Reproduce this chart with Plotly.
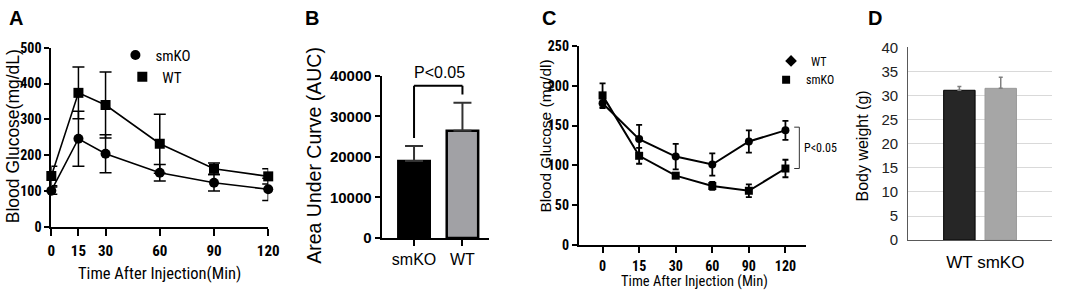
import plotly.graph_objects as go

W, H = 1065, 300

# ---------------- data ----------------
# Panel A: IPGTT
time_a = [0, 15, 30, 60, 90, 120]
a_smko = [101, 246, 204, 151, 123, 105]
a_smko_err = [10, 77, 53, 23, 23, 31]
a_wt = [142, 374, 340, 232, 162, 141]
a_wt_err = [27, 72, 92, 82, 16, 21]

# Panel B: AUC
auc_groups = ["smKO", "WT"]
auc_vals = [19000, 26500]
auc_err = [3700, 6900]

# Panel C: ITT
time_c = ["0", "15", "30", "60", "90", "120"]
c_wt = [178, 133, 111, 101, 130, 144]
c_wt_err = [6, 18, 16, 14, 14, 12]
c_smko = [188, 112, 87, 74, 68, 96]
c_smko_err = [15, 10, 2, 5, 8, 11]

# Panel D: body weight
bw_groups = ["WT", "smKO"]
bw_vals = [31.1, 31.5]
bw_err = [0.8, 2.3]

# ---------------- helpers ----------------
def fx(p):
    return p / W

def fy(p):
    return 1 - p / H

NARROW = "Roboto Condensed, Liberation Sans, Arial"
ARIAL = "Liberation Sans, Arial"

fig = go.Figure()

# ---- Panel A ----
fig.add_trace(go.Scatter(
    x=time_a, y=a_smko, mode="lines+markers", xaxis="x", yaxis="y",
    line=dict(color="black", width=1.6),
    marker=dict(symbol="circle", size=10, color="black"),
    error_y=dict(type="data", array=a_smko_err, color="black", thickness=1.5, width=6),
    cliponaxis=False, showlegend=False))
fig.add_trace(go.Scatter(
    x=time_a, y=a_wt, mode="lines+markers", xaxis="x", yaxis="y",
    line=dict(color="black", width=1.6),
    marker=dict(symbol="square", size=10, color="black"),
    error_y=dict(type="data", array=a_wt_err, color="black", thickness=1.5, width=6),
    cliponaxis=False, showlegend=False))
fig.add_trace(go.Scatter(x=[None], y=[None], mode="markers", name="smKO",
    marker=dict(symbol="circle", size=10, color="black"), legend="legend", xaxis="x", yaxis="y"))
fig.add_trace(go.Scatter(x=[None], y=[None], mode="markers", name="WT",
    marker=dict(symbol="square", size=10, color="black"), legend="legend2", xaxis="x", yaxis="y"))

# ---- Panel B ----
fig.add_trace(go.Bar(
    x=auc_groups, y=auc_vals, xaxis="x2", yaxis="y2", width=0.65,
    marker=dict(color=["#000000", "#a1a1a5"], line=dict(color="black", width=2.5)),
    error_y=dict(type="data", symmetric=False, array=auc_err, arrayminus=[0, 0],
                 color="#333333", thickness=2, width=9),
    showlegend=False))

# ---- Panel C ----
fig.add_trace(go.Scatter(
    x=time_c, y=c_wt, mode="lines+markers", xaxis="x3", yaxis="y3",
    line=dict(color="black", width=2),
    marker=dict(symbol="circle", size=8, color="black"),
    error_y=dict(type="data", array=c_wt_err, color="black", thickness=1.8, width=3),
    cliponaxis=False, showlegend=False))
fig.add_trace(go.Scatter(
    x=time_c, y=c_smko, mode="lines+markers", xaxis="x3", yaxis="y3",
    line=dict(color="black", width=2),
    marker=dict(symbol="square", size=8, color="black"),
    error_y=dict(type="data", array=c_smko_err, color="black", thickness=1.8, width=3),
    cliponaxis=False, showlegend=False))
fig.add_trace(go.Scatter(x=[None], y=[None], mode="markers", name="WT",
    marker=dict(symbol="diamond", size=9, color="black"), legend="legend3", xaxis="x3", yaxis="y3"))
fig.add_trace(go.Scatter(x=[None], y=[None], mode="markers", name="smKO",
    marker=dict(symbol="square", size=8, color="black"), legend="legend4", xaxis="x3", yaxis="y3"))

# ---- Panel D ----
fig.add_trace(go.Bar(
    x=bw_groups, y=bw_vals, xaxis="x4", yaxis="y4", width=0.76,
    marker=dict(color=["#262626", "#a6a6a6"], line=dict(color=["#000000", "#9a9a9a"], width=1)),
    error_y=dict(type="data", symmetric=False, array=bw_err, arrayminus=[0, 0],
                 color="#7f7f7f", thickness=1.5, width=2),
    showlegend=False))

# ---------------- axes ----------------
axA = dict(showline=True, linecolor="black", linewidth=2, ticks="outside",
           tickcolor="black", tickwidth=2, showgrid=False, zeroline=False)

domA_y = [fy(231), fy(41)]
domB_y = [fy(242.7), fy(71)]

fig.update_layout(
    xaxis=dict(**axA, domain=[fx(48), fx(268)], range=[0, 120], tickvals=time_a,
               ticklen=7, anchor="y", ticklabelstandoff=2,
               tickfont=dict(family=NARROW, size=15, color="black", weight="bold")),
    yaxis=dict(**axA, domain=domA_y, range=[0, 500], dtick=100, ticklen=5,
               anchor="x",
               tickfont=dict(family=NARROW, size=14, color="black", weight="bold")),
    xaxis2=dict(**axA, domain=[fx(383), fx(492)], range=[-0.67, 1.55], ticklen=6,
                anchor="y2",
                tickfont=dict(family=ARIAL, size=16, color="black")),
    yaxis2=dict(**axA, domain=domB_y, range=[0, 40000], dtick=10000, ticklen=5,
                anchor="x2", tickformat="d",
                tickfont=dict(family=ARIAL, size=15, color="black", weight="bold")),
    xaxis3=dict(**axA, domain=[fx(583), fx(813)], range=[-0.65, 5.55], ticklen=6,
                type="category", anchor="y3", ticklabelstandoff=1,
                tickfont=dict(family=NARROW, size=14, color="black", weight="bold")),
    yaxis3=dict(**axA, domain=[fy(250), fy(39.3)], range=[0, 250], dtick=50, ticklen=5,
                anchor="x3",
                tickfont=dict(family=NARROW, size=14, color="black", weight="bold")),
    xaxis4=dict(domain=[fx(917), fx(1063)], range=[-1.24, 2.24], showline=True,
                linecolor="#595959", linewidth=1, ticks="", showgrid=False, zeroline=False,
                anchor="y4", ticklabelstandoff=6,
                tickfont=dict(family=ARIAL, size=17, color="black")),
    yaxis4=dict(domain=[fy(245), fy(40.7)], range=[0, 40], dtick=5, showline=True,
                linecolor="#595959", linewidth=1, ticks="", showgrid=True,
                gridcolor="#d9d9d9", gridwidth=1, zeroline=False, anchor="x4",
                ticklabelstandoff=6,
                tickfont=dict(family=ARIAL, size=15, color="#222222")),
)

# ---------------- legends ----------------
def leg(x, y, size):
    return dict(x=fx(x), y=fy(y), xanchor="left", yanchor="middle",
                bgcolor="rgba(0,0,0,0)", borderwidth=0, itemwidth=30,
                font=dict(family=NARROW, size=size, color="black"))

fig.update_layout(
    legend=leg(113, 49, 15),
    legend2=leg(120, 72, 15),
    legend3=leg(778, 55, 12),
    legend4=leg(773, 75, 12),
)

# ---------------- annotations ----------------
ann = []
def text(t, x, y, size, family=ARIAL, bold=False, angle=0, xanchor="center"):
    ann.append(dict(text=t, x=fx(x), y=fy(y), xref="paper", yref="paper",
                    showarrow=False, textangle=angle, xanchor=xanchor, yanchor="middle",
                    font=dict(family=family, size=size, color="black",
                              weight="bold" if bold else "normal")))

text("A", 12, 10, 20, bold=True)
text("B", 312, 10, 20, bold=True)
text("C", 553, 10, 20, bold=True)
text("D", 883, 10, 20, bold=True)

text("Blood Glucose(mg/dL)", 9, 135, 17.5, angle=-90)
text("Time After Injection(Min)", 158, 280, 16.5, family=NARROW)
text("Area Under Curve (AUC)", 315, 155, 19.5, angle=-90)
text("Blood Glucose (mg/dl)", 549, 135, 15.5, angle=-90)
text("Time After Injection (Min)", 700, 289, 14.5, family=NARROW)
text("Body weight (g)", 871, 145, 16, angle=-90)

# significance bracket B (derived from data)
gap = 2000
left_bottom = auc_vals[0] + auc_err[0] + gap
right_bottom = auc_vals[1] + auc_err[1] + gap
level = max(right_bottom, left_bottom) + 2200
shapes = [
    dict(type="line", xref="x2", yref="y2", x0=0, x1=0, y0=left_bottom, y1=level,
         line=dict(color="black", width=2)),
    dict(type="line", xref="x2", yref="y2", x0=0, x1=1, y0=level, y1=level,
         line=dict(color="black", width=2)),
    dict(type="line", xref="x2", yref="y2", x0=1, x1=1, y0=right_bottom, y1=level,
         line=dict(color="black", width=2)),
]
p_val_y = level + 3300
p_paper = domB_y[0] + (domB_y[1] - domB_y[0]) * p_val_y / 40000
ann.append(dict(text="P<0.05", x=(fx(416.7) + fx(466.7)) / 2, y=p_paper,
                xref="paper", yref="paper",
                showarrow=False, xanchor="center", yanchor="middle",
                font=dict(family=ARIAL, size=16, color="black")))

# bracket C
bx = len(time_c) - 1 + 0.38
tick = 0.14
y_lo = c_smko[-1]
y_hi = c_wt[-1] + 4
shapes += [
    dict(type="line", xref="x3", yref="y3", x0=bx, x1=bx, y0=y_lo, y1=y_hi,
         line=dict(color="#333333", width=1)),
    dict(type="line", xref="x3", yref="y3", x0=bx - tick, x1=bx, y0=y_lo, y1=y_lo,
         line=dict(color="#333333", width=1)),
    dict(type="line", xref="x3", yref="y3", x0=bx - tick, x1=bx, y0=y_hi, y1=y_hi,
         line=dict(color="#333333", width=1)),
]
ann.append(dict(text="P<0.05", x=bx + 0.06, y=(y_lo + y_hi) / 2, xref="x3", yref="y3",
                showarrow=False, xanchor="left", yanchor="middle",
                font=dict(family=NARROW, size=12, color="black")))

fig.update_layout(
    width=W, height=H, margin=dict(l=0, r=0, t=0, b=0),
    paper_bgcolor="white", plot_bgcolor="white",
    annotations=ann, shapes=shapes,
    font=dict(family=ARIAL, color="black"),
)

fig.write_html("out.html", config={"displayModeBar": False},
               post_script="document.body.style.margin='0';")
